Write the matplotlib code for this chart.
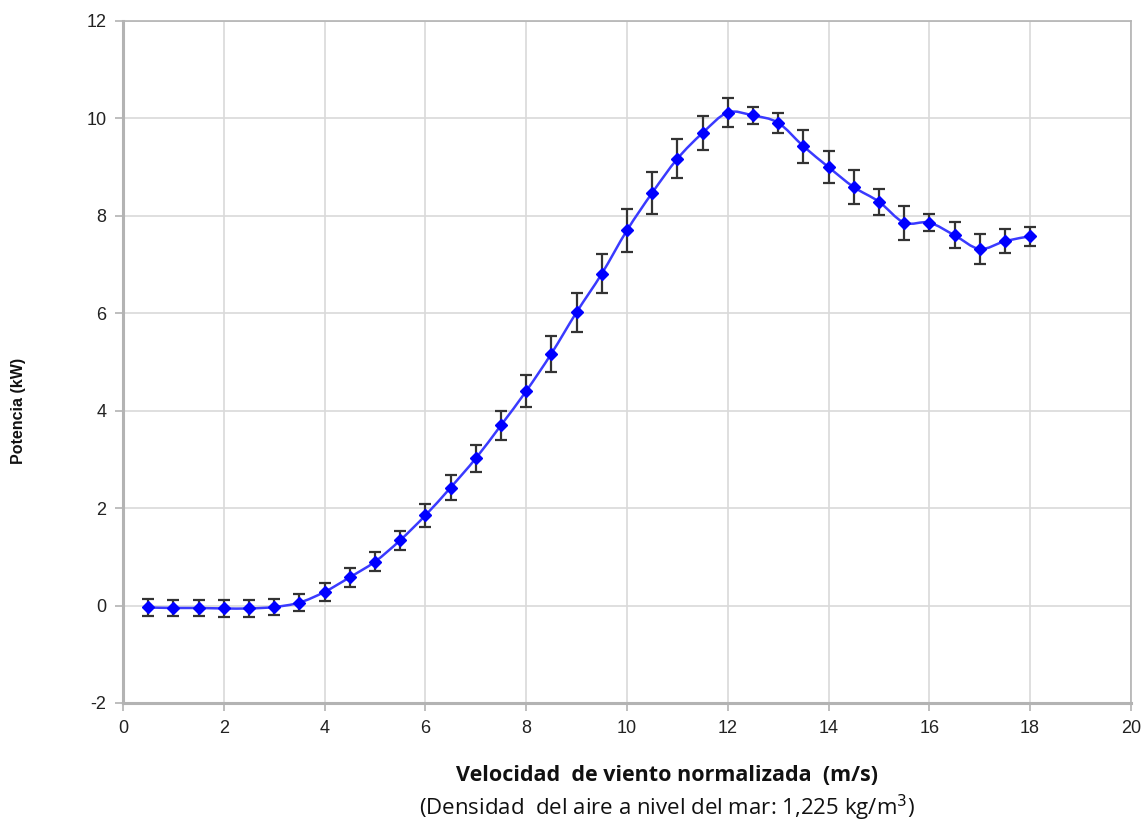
import numpy as np
import matplotlib
matplotlib.use('Agg')
import matplotlib.pyplot as plt
from matplotlib.path import Path
from matplotlib.patches import PathPatch

plt.rcParams['axes.unicode_minus'] = False

# viento normalizado (m/s), potencia media (kW), desviacion (kW)
velocidad = [0.5, 1.0, 1.5, 2.0, 2.5, 3.0, 3.5, 4.0, 4.5, 5.0, 5.5, 6.0,
             6.5, 7.0, 7.5, 8.0, 8.5, 9.0, 9.5, 10.0, 10.5, 11.0, 11.5, 12.0,
             12.5, 13.0, 13.5, 14.0, 14.5, 15.0, 15.5, 16.0, 16.5, 17.0, 17.5, 18.0]
potencia = [-0.04, -0.05, -0.05, -0.06, -0.06, -0.03, 0.06, 0.28, 0.58, 0.90, 1.34, 1.85,
            2.42, 3.02, 3.70, 4.40, 5.17, 6.02, 6.81, 7.70, 8.47, 9.17, 9.70, 10.12,
            10.06, 9.91, 9.43, 9.00, 8.59, 8.29, 7.86, 7.86, 7.60, 7.32, 7.48, 7.58]
desviacion = [0.17, 0.17, 0.17, 0.17, 0.17, 0.17, 0.17, 0.18, 0.19, 0.19, 0.20, 0.23,
              0.25, 0.28, 0.30, 0.33, 0.37, 0.40, 0.40, 0.45, 0.43, 0.40, 0.34, 0.30,
              0.18, 0.20, 0.34, 0.33, 0.35, 0.27, 0.35, 0.18, 0.27, 0.31, 0.25, 0.20]

x_ticks = np.arange(0, 21, 2)
y_ticks = np.arange(-2, 13, 2)

grid_gray = '#d9d9d9'
axis_gray = '#b3b3b3'


def smooth_path(xs, ys, tension=1 / 6):
    # Catmull-Rom -> Bezier, like the "smoothed line" option of spreadsheets
    pts = np.column_stack([xs, ys])
    verts = [pts[0]]
    codes = [Path.MOVETO]
    for i in range(len(pts) - 1):
        p0 = pts[i - 1] if i > 0 else pts[i]
        p1 = pts[i]
        p2 = pts[i + 1]
        p3 = pts[i + 2] if i + 2 < len(pts) else pts[i + 1]
        c1 = p1 + (p2 - p0) * tension
        c2 = p2 - (p3 - p1) * tension
        verts += [c1, c2, p2]
        codes += [Path.CURVE4] * 3
    return Path(verts, codes)


fig = plt.figure(figsize=(11.48, 8.22), dpi=100)
ax = fig.add_axes([0.1071, 0.1448, 0.8780, 0.8297])

ax.set_xlim(0, 20)
ax.set_ylim(-2, 12)
ax.set_xticks(x_ticks)
ax.set_yticks(y_ticks)
ax.grid(True, color=grid_gray, linewidth=1.2)
ax.set_axisbelow(True)

for side in ['left', 'bottom', 'top', 'right']:
    ax.spines[side].set_color(axis_gray)
ax.spines['left'].set_linewidth(2.2)
ax.spines['bottom'].set_linewidth(2.2)
ax.spines['top'].set_linewidth(1.2)
ax.spines['right'].set_linewidth(1.2)
ax.tick_params(axis='both', colors=axis_gray, length=6, width=1.2, labelsize=13,
               labelcolor='#222222', pad=6)
for lbl in ax.get_xticklabels() + ax.get_yticklabels():
    lbl.set_family('Liberation Sans')

ax.add_patch(PathPatch(smooth_path(velocidad, potencia), facecolor='none',
                       edgecolor='#3a3aff', linewidth=1.8, zorder=3))
ax.errorbar(velocidad, potencia, yerr=desviacion, fmt='none', ecolor='#333333',
            elinewidth=1.6, capsize=4.5, capthick=1.6, zorder=4)
ax.plot(velocidad, potencia, linestyle='none', marker='D', markersize=6.5,
        color='#0000ff', zorder=5)

fig.text(0.016, 0.5, 'Potencia (kW)', rotation=90, ha='center', va='center',
         fontsize=11.5, fontweight='bold', family='Liberation Sans', color='#111111')
fig.text(0.581, 0.057, 'Velocidad  de viento normalizada  (m/s)', ha='center', va='center',
         fontsize=15.5, fontweight='bold', family='Open Sans', color='#111111')
fig.text(0.581, 0.017, '(Densidad  del aire a nivel del mar: 1,225 kg/m$^{3}$)', ha='center',
         va='center', fontsize=16, family='Open Sans', color='#111111')

fig.savefig('out.png', dpi=100)
